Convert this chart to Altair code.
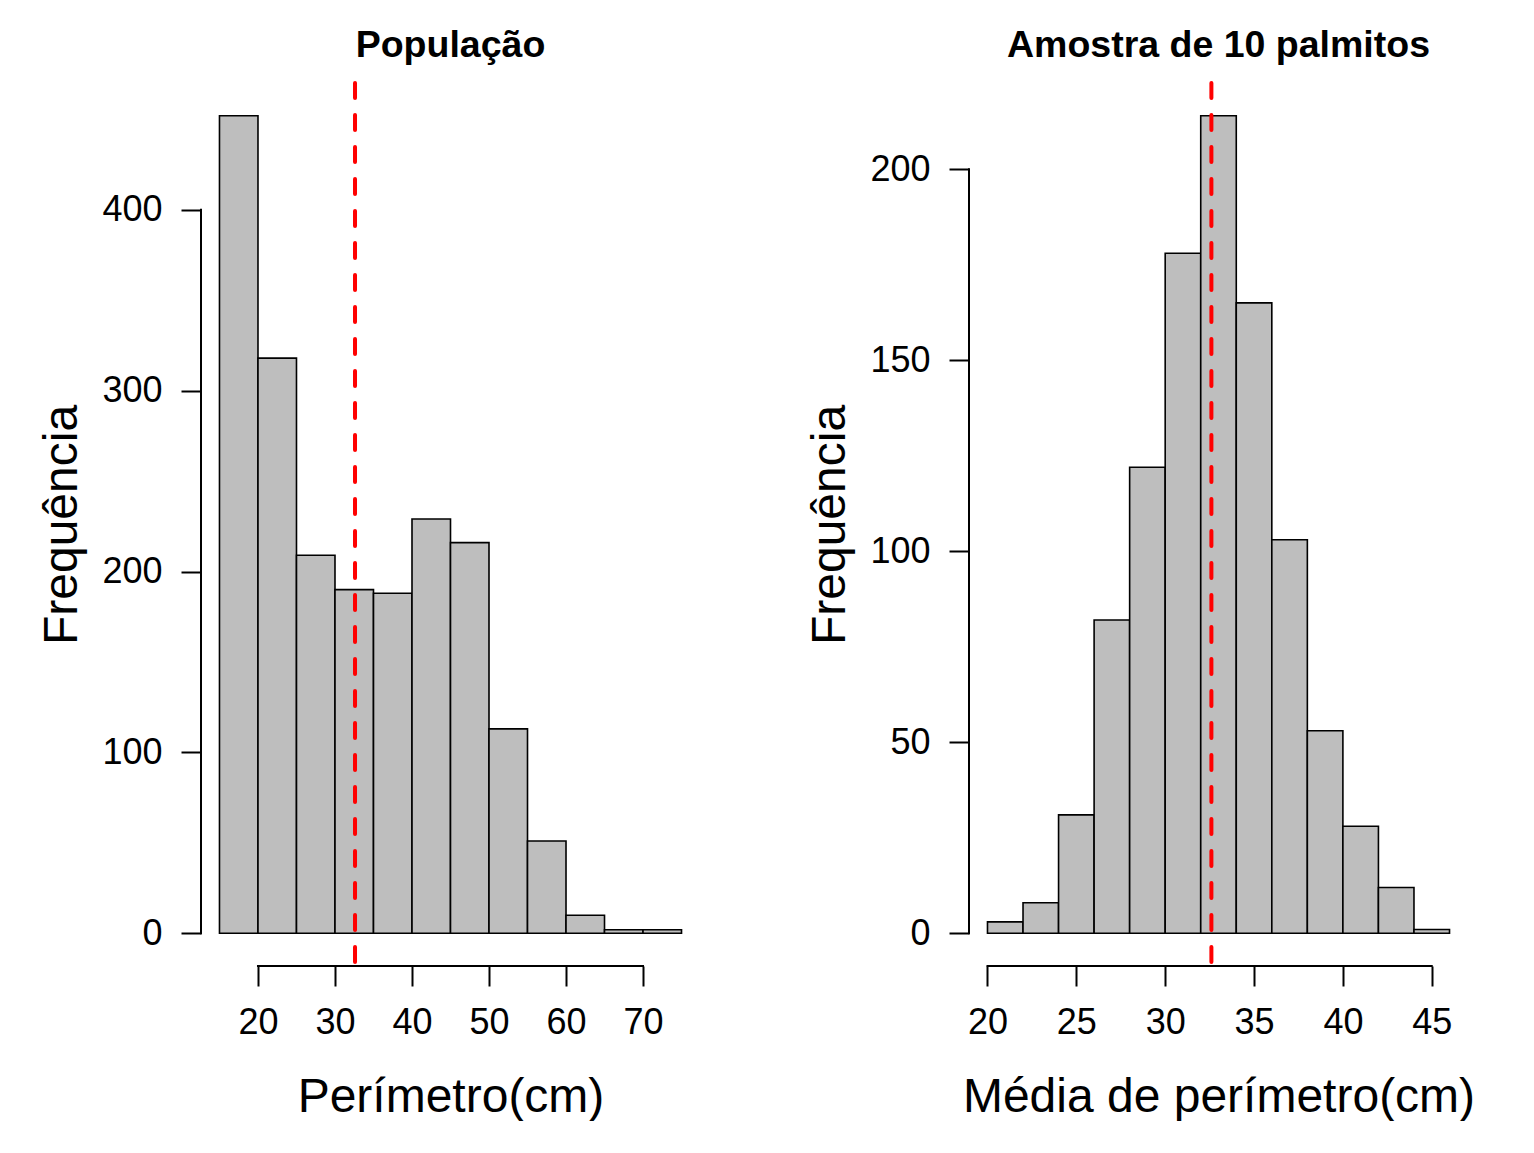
import altair as alt
import pandas as pd

# ---- data ----
pop_starts = [15, 20, 25, 30, 35, 40, 45, 50, 55, 60, 65, 70]
pop_counts = [452, 318, 209, 190, 188, 229, 216, 113, 51, 10, 2, 2]
pop_width = 5
pop_mean = 32.6
pop_xticks = [20, 30, 40, 50, 60, 70]
pop_yticks = [0, 100, 200, 300, 400]

amo_starts = [20, 22, 24, 26, 28, 30, 32, 34, 36, 38, 40, 42, 44]
amo_counts = [3, 8, 31, 82, 122, 178, 214, 165, 103, 53, 28, 12, 1]
amo_width = 2
amo_mean = 32.6
amo_xticks = [20, 25, 30, 35, 40, 45]
amo_yticks = [0, 50, 100, 150, 200]

FONT = "Liberation Sans"
W, H = 499, 883


def panel(starts, counts, width, mean, xticks, yticks, title, xtitle):
    df = pd.DataFrame({
        "start": starts,
        "end": [s + width for s in starts],
        "count": counts,
    })
    # R-style 4% expansion of the data range
    xlo, xhi = min(starts), max(starts) + width
    xext = 0.04 * (xhi - xlo)
    xdom = [xlo - xext, xhi + xext]
    ylo, yhi = 0, max(counts)
    yext = 0.04 * (yhi - ylo)
    ydom = [ylo - yext, yhi + yext]

    xscale = alt.Scale(domain=xdom, nice=False, zero=False)
    yscale = alt.Scale(domain=ydom, nice=False, zero=False)

    xaxis = alt.Axis(values=xticks, title=xtitle, domain=False, grid=False,
                     tickSize=20, tickWidth=2, tickColor="black",
                     labelFontSize=36, labelFont=FONT, labelColor="black",
                     labelPadding=19, labelFlush=False, labelOverlap=False,
                     titleFontSize=48, titleFont=FONT, titleFontWeight="normal",
                     titleColor="black", titlePadding=33, format="d")
    yaxis = alt.Axis(values=yticks, title="Frequência", domain=False, grid=False,
                     tickSize=20, tickWidth=2, tickColor="black",
                     labelFontSize=36, labelFont=FONT, labelColor="black",
                     labelPadding=19, labelFlush=False, labelOverlap=False,
                     titleFontSize=48, titleFont=FONT, titleFontWeight="normal",
                     titleColor="black", titlePadding=15, format="d")

    bars = alt.Chart(df).mark_rect(fill="#BEBEBE", stroke="black", strokeWidth=1.6).encode(
        x=alt.X("start:Q", scale=xscale, axis=xaxis),
        x2="end:Q",
        y=alt.Y("count:Q", scale=yscale, axis=yaxis),
        y2=alt.datum(0),
    )

    xline_df = pd.DataFrame({"a": [xticks[0]], "b": [xticks[-1]], "y": [ydom[0]]})
    xline = alt.Chart(xline_df).mark_rule(color="black", strokeWidth=2, strokeCap="square").encode(
        x="a:Q", x2="b:Q", y="y:Q"
    )
    yline_df = pd.DataFrame({"a": [yticks[0]], "b": [yticks[-1]], "x": [xdom[0]]})
    yline = alt.Chart(yline_df).mark_rule(color="black", strokeWidth=2, strokeCap="square").encode(
        y="a:Q", y2="b:Q", x="x:Q"
    )

    mean_df = pd.DataFrame({"m": [mean]})
    mline = alt.Chart(mean_df).mark_rule(color="#FF0000", strokeWidth=4,
                                         strokeDash=[15, 17], strokeCap="round").encode(
        x="m:Q"
    )

    return alt.layer(bars, xline, yline, mline).properties(
        width=W, height=H,
        title=alt.TitleParams(title, font=FONT, fontSize=37.5, fontWeight="bold",
                              color="black", anchor="middle", frame="group",
                              baseline="alphabetic", offset=-13),
    )


left = panel(pop_starts, pop_counts, pop_width, pop_mean, pop_xticks, pop_yticks,
             "População", "Perímetro(cm)")
right = panel(amo_starts, amo_counts, amo_width, amo_mean, amo_xticks, amo_yticks,
              "Amostra de 10 palmitos", "Média de perímetro(cm)")

chart = alt.hconcat(left, right, spacing=106).resolve_scale(x="independent", y="independent").properties(
    padding={"left": 30, "top": 18, "right": 0, "bottom": 0},
    background="white",
).configure_view(strokeWidth=0)

chart.save("out.html", embed_options={"renderer": "svg", "actions": False})
